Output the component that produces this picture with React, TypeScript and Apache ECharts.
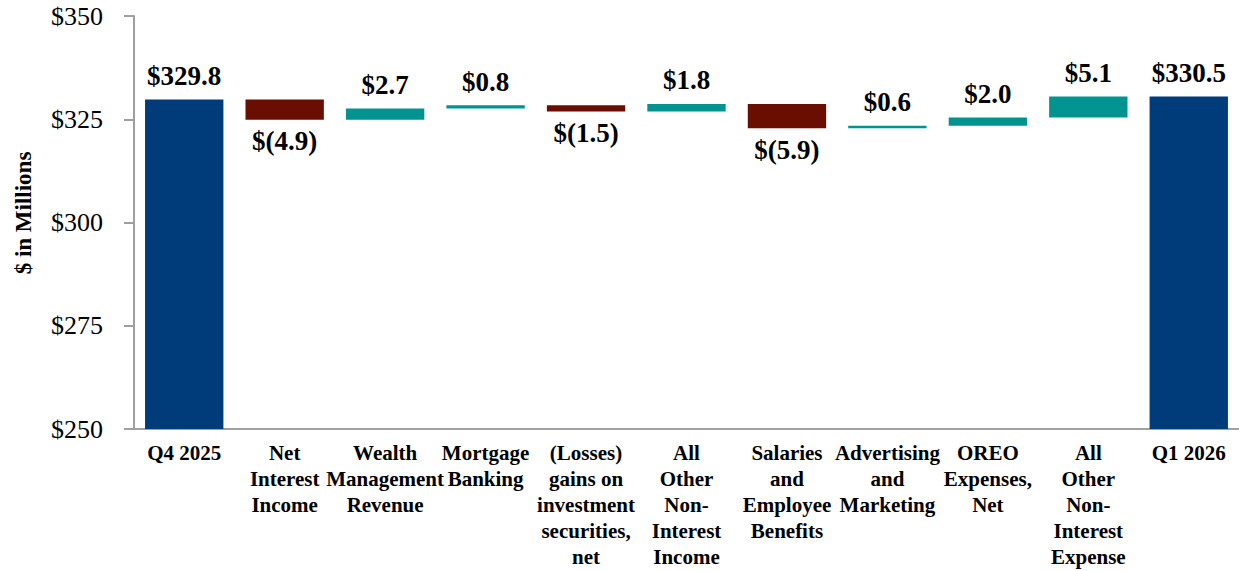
import React, { useEffect, useRef } from "react";
import * as echarts from "echarts";

const categories = [
  "Q4 2025",
  "Net\nInterest\nIncome",
  "Wealth\nManagement\nRevenue",
  "Mortgage\nBanking",
  "(Losses)\ngains on\ninvestment\nsecurities,\nnet",
  "All\nOther\nNon-\nInterest\nIncome",
  "Salaries\nand\nEmployee\nBenefits",
  "Advertising\nand\nMarketing",
  "OREO\nExpenses,\nNet",
  "All\nOther\nNon-\nInterest\nExpense",
  "Q1 2026",
];

// totals (null where the bar is a change)
const totals: (number | null)[] = [329.8, null, null, null, null, null, null, null, null, null, 330.5];
// changes between the totals (null where the bar is a total)
const changes: (number | null)[] = [null, -4.9, 2.7, 0.8, -1.5, 1.8, -5.9, 0.6, 2.0, 5.1, null];

const yTicks = [250, 275, 300, 325, 350];

const NAVY = "#003B7A";
const RED = "#6B0E02";
const TEAL = "#00938F";
const FONT = "'Liberation Serif', 'Times New Roman', serif";

function fmt(v: number) {
  const s = Math.abs(v).toFixed(1);
  return v < 0 ? `$(${s})` : `$${s}`;
}

export default function App() {
  const ref = useRef<HTMLDivElement>(null);

  useEffect(() => {
    if (!ref.current) return;
    const chart = echarts.init(ref.current, null, { renderer: "svg" });

    // running level before each change
    const baseData: (number | string)[] = [];
    let level = totals[0] as number;
    changes.forEach((c, i) => {
      if (c === null) {
        baseData.push("-");
        if (totals[i] !== null) level = totals[i] as number;
      } else {
        const next = +(level + c).toFixed(1);
        baseData.push(Math.min(level, next));
        level = next;
      }
    });

    const changeData = changes.map((c) =>
      c === null
        ? "-"
        : {
            value: Math.abs(c),
            raw: c,
            itemStyle: { color: c < 0 ? RED : TEAL },
            label: {
              position: c < 0 ? "bottom" : "top",
              distance: c < 0 ? 8 : 10,
            },
          }
    );

    const labelStyle = {
      show: true,
      fontFamily: FONT,
      fontWeight: "bold",
      fontSize: 27,
      color: "#000",
    };

    chart.setOption({
      animation: false,
      grid: { left: 134, right: 0, top: 16, bottom: 142, containLabel: false },
      graphic: [
        {
          type: "text",
          x: 23,
          y: 213,
          rotation: Math.PI / 2,
          style: {
            text: "$ in Millions",
            font: `bold 23px ${FONT}`,
            fill: "#000",
            textAlign: "center",
            textVerticalAlign: "middle",
          },
        },
      ],
      xAxis: {
        type: "category",
        data: categories,
        axisLine: { lineStyle: { color: "#A0A0A0", width: 2 } },
        axisTick: { alignWithLabel: true, length: 10, lineStyle: { color: "#A0A0A0", width: 2 } },
        axisLabel: {
          interval: 0,
          margin: 11,
          fontFamily: FONT,
          fontWeight: "bold",
          fontSize: 21,
          lineHeight: 26,
          color: "#000",
        },
      },
      yAxis: {
        type: "value",
        min: yTicks[0],
        max: yTicks[yTicks.length - 1],
        interval: 25,
        splitLine: { show: false },
        axisLine: { show: true, lineStyle: { color: "#A0A0A0", width: 2 } },
        axisTick: { show: true, length: 10, lineStyle: { color: "#A0A0A0", width: 2 } },
        axisLabel: {
          margin: 31,
          fontFamily: FONT,
          fontSize: 26,
          color: "#000",
          formatter: (v: number) => `$${v}`,
        },
      },
      series: [
        {
          type: "bar",
          stack: "w",
          barWidth: "78%",
          data: baseData,
          itemStyle: { color: "transparent" },
          silent: true,
        },
        {
          type: "bar",
          stack: "w",
          barWidth: "78%",
          data: totals.map((t) => (t === null ? "-" : t)),
          itemStyle: { color: NAVY },
          label: {
            ...labelStyle,
            position: "top",
            distance: 10,
            formatter: (p: any) => fmt(p.value),
          },
        },
        {
          type: "bar",
          stack: "w",
          barWidth: "78%",
          data: changeData,
          label: {
            ...labelStyle,
            formatter: (p: any) => fmt(p.data.raw),
          },
        },
      ],
    });

    return () => chart.dispose();
  }, []);

  return (
    <div
      ref={ref}
      style={{ position: "fixed", left: 0, top: 0, width: 1239, height: 571, background: "#fff" }}
    />
  );
}
